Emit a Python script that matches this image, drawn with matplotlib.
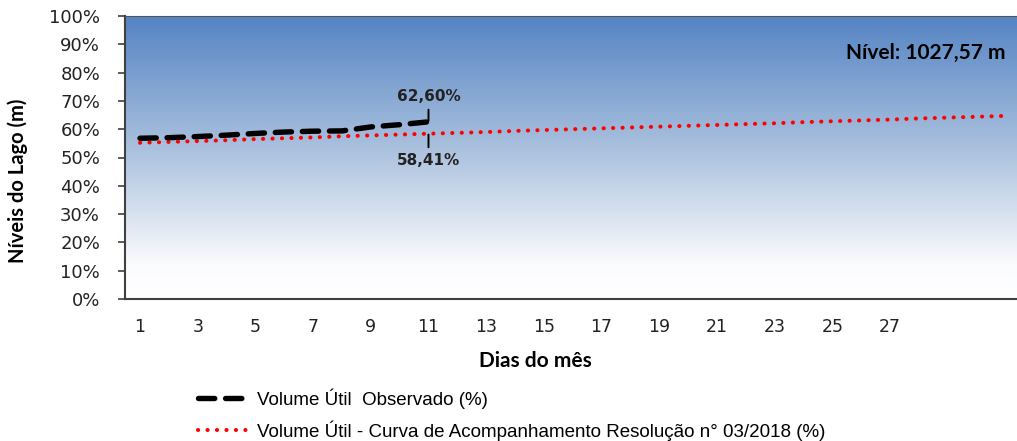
import numpy as np
import matplotlib
matplotlib.use("Agg")
import matplotlib.pyplot as plt
from matplotlib.colors import LinearSegmentedColormap

# dias do mes
dias = list(range(1, 32))
dias_obs = list(range(1, 12))

# volume util observado (%)
observado = [56.8, 57.0, 57.4, 57.9, 58.5, 59.0, 59.3, 59.4, 60.8, 61.6, 62.6]

# curva de acompanhamento (%)
curva = [55.2, 55.5, 55.8, 56.1, 56.5, 56.8, 57.1, 57.5, 57.8, 58.1, 58.41,
         58.7, 59.0, 59.4, 59.7, 60.0, 60.3, 60.6, 60.9, 61.2, 61.5, 61.8,
         62.1, 62.5, 62.8, 63.1, 63.4, 63.8, 64.1, 64.4, 64.7]

xticks = list(range(1, 28, 2))
yticks = list(range(0, 101, 10))
nivel = 'Nível: 1027,57 m'

fig = plt.figure(figsize=(10.17, 4.41), dpi=100)
ax = fig.add_axes([125 / 1017, 1 - 299 / 441, 1 - 125 / 1017, 283 / 441])

xlim = (0.48, 31.4)
ax.set_xlim(*xlim)
ax.set_ylim(0, 100)

# fundo em degrade (azul em cima, branco embaixo)
cmap = LinearSegmentedColormap.from_list(
    'fundo', [(0.0, '#ffffff'), (0.12, '#fbfcfe'), (0.5, '#b0c5e0'), (1.0, '#5584c3')])
grad = np.linspace(0, 1, 256).reshape(-1, 1)
ax.imshow(grad, extent=[xlim[0], xlim[1], 0, 100], origin='lower',
          aspect='auto', cmap=cmap, zorder=0)

ax.plot(dias, curva, color='#ff0000', lw=2.9, linestyle=(0, (0.05, 2.3)),
        dash_capstyle='round', zorder=3,
        label='Volume Útil - Curva de Acompanhamento Resolução n° 03/2018 (%)')
ax.plot(dias_obs, observado, color='black', lw=3.9, linestyle=(0, (3.0, 2.0)),
        dash_capstyle='round', zorder=4,
        label='Volume Útil  Observado (%)')

# rotulos dos ultimos valores
ax.annotate(f'{observado[-1]:.2f}%'.replace('.', ','), xy=(dias_obs[-1], observado[-1] + 0.3),
            xytext=(dias_obs[-1], 71.5), ha='center', va='center',
            fontsize=11, fontweight='bold', color='#222222', zorder=5,
            arrowprops=dict(arrowstyle='-', color='black', lw=1.4, shrinkA=2, shrinkB=0))
i = dias_obs[-1] - 1
ax.annotate(f'{curva[i]:.2f}%'.replace('.', ','), xy=(dias[i], curva[i] - 0.3),
            xytext=(dias[i], 49.0), ha='center', va='center',
            fontsize=11, fontweight='bold', color='#222222', zorder=5,
            arrowprops=dict(arrowstyle='-', color='black', lw=1.4, shrinkA=2, shrinkB=0))

ax.text((1005 - 125) / 892, (299 - 53) / 283, nivel, transform=ax.transAxes,
        ha='right', va='center', fontsize=15, fontweight='bold', family='Lato', color='black')

ax.set_xticks(xticks)
ax.set_yticks(yticks)
ax.set_yticklabels([f'{v}%' for v in yticks])
ax.tick_params(axis='x', length=0, pad=14, labelsize=12.5, colors='#222222')
ax.tick_params(axis='y', length=5, width=1.2, direction='out', pad=13,
               labelsize=13, colors='#404040', labelcolor='#222222')

for s in ['left', 'bottom']:
    ax.spines[s].set_color('#404040')
    ax.spines[s].set_linewidth(1.5)
ax.spines['top'].set_color('#555555')
ax.spines['top'].set_linewidth(0.8)
ax.spines['right'].set_visible(False)

ax.set_xlabel('Dias do mês', fontsize=15, fontweight='bold', family='Lato')
ax.set_ylabel('Níveis do Lago (m)', fontsize=14.5, fontweight='bold', family='Lato')
ax.xaxis.set_label_coords((535 - 125) / 892, -(351 - 299) / 283)
ax.yaxis.set_label_coords(-(125 - 28) / 892, (299 - 181) / 283)

h, l = ax.get_legend_handles_labels()
fig.legend(h[::-1], l[::-1], loc='upper left', bbox_to_anchor=(189 / 1017, 1 - 379 / 441),
           frameon=False, prop={'family': 'Liberation Sans', 'size': 13.5},
           handlelength=2.8, handletextpad=0.35, labelspacing=0.62, borderpad=0)

fig.savefig('out.png', dpi=100)
